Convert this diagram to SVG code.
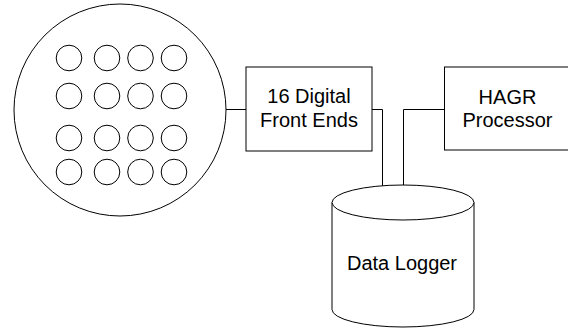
<svg xmlns="http://www.w3.org/2000/svg" width="568" height="330" viewBox="0 0 568 330">
<style>
.s{fill:#fff;stroke:#000;stroke-width:1}
.c{fill:none;stroke:#000;stroke-width:1}
.t{font-family:"Liberation Sans",Arial,sans-serif;font-size:20px;fill:#000;text-anchor:middle}
</style>
<rect width="568" height="330" fill="#fff"/>
<g id="connectors">
<path class="c" d="M226,109.5H246"/>
<path class="c" d="M372,109.5H382.5V186"/>
<path class="c" d="M444,109.5H403.5V185"/>
</g>
<g id="array">
<circle class="s" cx="120" cy="110" r="106"/>
<g class="c">
<circle cx="69" cy="58" r="12.8"/><circle cx="107" cy="58" r="12.8"/><circle cx="140.5" cy="58" r="12.8"/><circle cx="174" cy="58" r="12.8"/>
<circle cx="69" cy="96" r="12.8"/><circle cx="107" cy="96" r="12.8"/><circle cx="140.5" cy="96" r="12.8"/><circle cx="174" cy="96" r="12.8"/>
<circle cx="69" cy="138" r="12.8"/><circle cx="107" cy="138" r="12.8"/><circle cx="140.5" cy="138" r="12.8"/><circle cx="174" cy="138" r="12.8"/>
<circle cx="69" cy="172" r="12.8"/><circle cx="107" cy="172" r="12.8"/><circle cx="140.5" cy="172" r="12.8"/><circle cx="174" cy="172" r="12.8"/>
</g>
</g>
<g id="frontends">
<rect class="s" x="246" y="67" width="126" height="84"/>
<text class="t" x="309" y="103">16 Digital</text>
<text class="t" x="309" y="127">Front Ends</text>
</g>
<g id="hagr">
<rect class="s" x="444.5" y="67" width="130" height="83"/>
<text class="t" x="507.5" y="104">HAGR</text>
<text class="t" x="507.5" y="127">Processor</text>
</g>
<g id="logger">
<path class="s" d="M332,202.5V309.5A71,17.5 0 0 0 474,309.5V202.5"/>
<ellipse class="s" cx="403" cy="202.5" rx="71" ry="17.5"/>
<text class="t" x="402" y="270">Data Logger</text>
</g>
</svg>
